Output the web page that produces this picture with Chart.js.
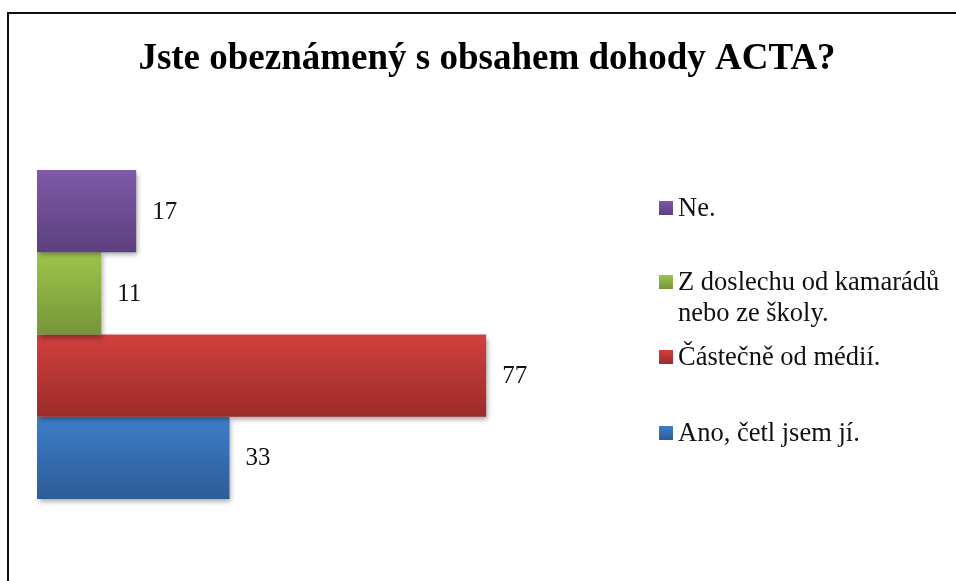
<!DOCTYPE html>
<html>
<head>
<meta charset="utf-8">
<script src="https://cdn.jsdelivr.net/npm/chart.js@4"></script>
<style>
  html, body { margin: 0; padding: 0; background: #fff; overflow: hidden; }
  #wrap { position: relative; width: 956px; height: 581px; }
  #frame { position: absolute; left: 7px; top: 12px; width: 2000px; height: 2000px;
           border-left: 2px solid #111; border-top: 2px solid #111; pointer-events: none; }
  canvas { position: absolute; left: 0; top: 0; }
</style>
</head>
<body>
<div id="wrap">
  <canvas id="c" width="956" height="581"></canvas>
  <div id="frame"></div>
</div>
<script>
const titleText = 'Jste obeznámený s obsahem dohody ACTA?';
const categories = [''];
const seriesLabels = [
  'Ne.',
  ['Z doslechu od kamarádů', 'nebo ze školy.'],
  'Částečně od médií.',
  'Ano, četl jsem jí.'
];
const seriesValues = [17, 11, 77, 33];
const gradTop = ['#7f5aa8', '#9ec54a', '#d2403c', '#3d7ec9'];
const gradBottom = ['#5d4080', '#76953a', '#9b2c2a', '#2c5c99'];

function makeGrad(ctx, y0, y1, i) {
  const g = ctx.createLinearGradient(0, y0, 0, y1);
  g.addColorStop(0, gradTop[i]);
  g.addColorStop(1, gradBottom[i]);
  return g;
}

const gradientPlugin = {
  id: 'gradientBars',
  beforeDatasetsDraw(chart) {
    chart.data.datasets.forEach((ds, i) => {
      const meta = chart.getDatasetMeta(i);
      meta.data.forEach(el => {
        const p = el.getProps(['y', 'height'], true);
        el.options.backgroundColor = makeGrad(chart.ctx, p.y - p.height / 2, p.y + p.height / 2, i);
      });
    });
  },
  beforeDatasetDraw(chart) {
    const ctx = chart.ctx;
    ctx.save();
    ctx.shadowColor = 'rgba(0,0,0,0.35)';
    ctx.shadowBlur = 5;
    ctx.shadowOffsetX = 2;
    ctx.shadowOffsetY = 3;
  },
  afterDatasetDraw(chart) {
    chart.ctx.restore();
  }
};

const valueLabelPlugin = {
  id: 'valueLabels',
  afterDatasetsDraw(chart) {
    const ctx = chart.ctx;
    ctx.save();
    ctx.font = '25px "Liberation Serif", "Times New Roman", serif';
    ctx.fillStyle = '#111';
    ctx.textBaseline = 'middle';
    ctx.textAlign = 'left';
    chart.data.datasets.forEach((ds, i) => {
      const meta = chart.getDatasetMeta(i);
      meta.data.forEach((el, j) => {
        ctx.fillText(String(ds.data[j]), el.x + 16, el.y + 1);
      });
    });
    ctx.restore();
  }
};

const legendPlugin = {
  id: 'sideLegend',
  afterDraw(chart, args, opts) {
    const ctx = chart.ctx;
    ctx.save();
    ctx.font = '26.5px "Liberation Serif", "Times New Roman", serif';
    ctx.fillStyle = '#111';
    ctx.textBaseline = 'middle';
    ctx.textAlign = 'left';
    chart.data.datasets.forEach((ds, i) => {
      const yc = opts.itemY[i];
      const s = opts.box;
      ctx.fillStyle = makeGrad(ctx, yc - s / 2, yc + s / 2, i);
      ctx.fillRect(opts.x, yc - s / 2, s, s);
      ctx.fillStyle = '#111';
      const lines = Array.isArray(ds.label) ? ds.label : [ds.label];
      lines.forEach((ln, k) => {
        ctx.fillText(ln, opts.x + s + 5, yc + 1 + k * opts.lineH);
      });
    });
    ctx.restore();
  }
};

new Chart(document.getElementById('c'), {
  type: 'bar',
  data: {
    labels: categories,
    datasets: seriesLabels.map((lab, i) => ({
      label: lab,
      data: [seriesValues[i]],
      backgroundColor: gradTop[i],
      borderWidth: 0
    }))
  },
  options: {
    indexAxis: 'y',
    responsive: false,
    animation: false,
    devicePixelRatio: 1,
    categoryPercentage: 0.767,
    barPercentage: 1,
    layout: { padding: { left: 37, right: 19, top: 0, bottom: 32 } },
    scales: {
      x: { display: false, min: 0, max: 154.3 },
      y: { display: false }
    },
    plugins: {
      legend: { display: false },
      tooltip: { enabled: false },
      title: {
        display: true,
        text: titleText,
        color: '#000',
        font: { family: '"Liberation Serif", "Times New Roman", serif', size: 37, weight: 'bold', lineHeight: 1.2 },
        padding: { top: 37, bottom: 38.6 }
      },
      sideLegend: { x: 659, box: 14, lineH: 31, itemY: [208, 282, 357, 433] }
    }
  },
  plugins: [gradientPlugin, valueLabelPlugin, legendPlugin]
});
</script>
</body>
</html>
